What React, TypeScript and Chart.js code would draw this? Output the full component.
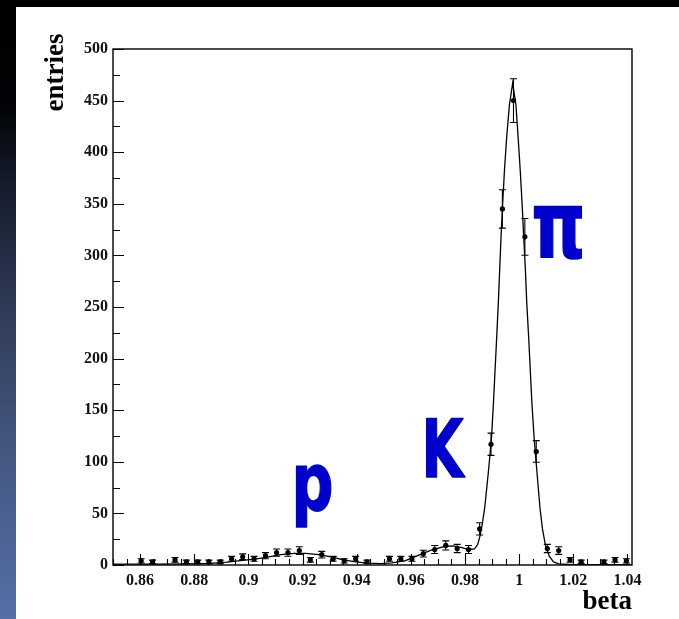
import React, { useEffect, useRef } from 'react';
import { Chart, registerables } from 'chart.js';

Chart.register(...registerables);

// ---- data ----
const binCenters = [
  0.8604, 0.8646, 0.8688, 0.8729, 0.8771, 0.8813, 0.8854, 0.8896, 0.8938, 0.8979,
  0.9021, 0.9063, 0.9104, 0.9146, 0.9188, 0.9229, 0.9271, 0.9313, 0.9354, 0.9396,
  0.9438, 0.9479, 0.9521, 0.9563, 0.9604, 0.9646, 0.9688, 0.9729, 0.9771, 0.9813,
  0.9854, 0.9896, 0.9938, 0.9979, 1.0021, 1.0063, 1.0104, 1.0146, 1.0188, 1.0229,
  1.0271, 1.0313, 1.0354, 1.0396,
];
const entries: (number | null)[] = [
  4, 3, null, 5, 3, 3, 3, 3, 6, 8,
  6, 9, 12, 12, 14, 5, 10, 6, 4, 6,
  3, null, 6, 6, 6, 11, 15, 19, 16, 15,
  35, 117, 345, 450, 318, 110, 16, 14, 5, 3,
  null, 3, 5, 4,
];
const entryErrors = [
  2.0, 1.7, 0, 2.2, 1.7, 1.7, 1.7, 1.7, 2.4, 2.8,
  2.4, 3.0, 3.5, 3.5, 3.7, 2.2, 3.2, 2.4, 2.0, 2.4,
  1.7, 0, 2.4, 2.4, 2.4, 3.3, 3.9, 4.4, 4.0, 3.9,
  5.9, 10.8, 18.6, 21.2, 17.8, 10.5, 4.0, 3.7, 2.2, 1.7,
  0, 1.7, 2.2, 2.0,
];

const curveBeta = [
  0.85, 0.865, 0.878, 0.886, 0.892, 0.897, 0.903, 0.908, 0.912, 0.917,
  0.921, 0.926, 0.931, 0.935, 0.939, 0.944, 0.949, 0.953, 0.958, 0.9625,
  0.9675, 0.9725, 0.9755, 0.9785, 0.9815, 0.9835, 0.9847, 0.9856, 0.9864, 0.9873,
  0.9887, 0.9898, 0.9905, 0.9911, 0.9917, 0.9923, 0.9928, 0.9933, 0.9939, 0.9946,
  0.9954, 0.9964, 0.9976, 0.9988, 0.9996, 1.0004, 1.0011, 1.0017, 1.0023, 1.0028,
  1.0035, 1.0041, 1.0047, 1.0055, 1.0065, 1.0077, 1.0086, 1.0097, 1.0112, 1.0127,
  1.0146, 1.02, 1.0417,
];
const curveValue = [
  0.8, 0.9, 1.1, 1.6, 2.8, 4.2, 6, 8.2, 10, 11.3,
  11.2, 10, 7.6, 5, 3.2, 1.8, 1.3, 2, 4.3, 9,
  14.5, 18, 18.5, 17, 15, 15.5, 20, 29, 40, 56,
  92, 124, 157, 189, 221, 254, 286, 318, 350, 384,
  415, 446, 467, 446, 415, 382, 349, 317, 286, 254,
  221, 189, 157, 124, 92, 55, 35, 19, 8, 3,
  1, 0.4, 0.3,
];

const xMajorTicks = [0.86, 0.88, 0.9, 0.92, 0.94, 0.96, 0.98, 1.0, 1.02, 1.04];
const yMajorTicks = [0, 50, 100, 150, 200, 250, 300, 350, 400, 450, 500];
const xMin = 0.85;
const xMax = 1.041667;
const xMinorStep = 0.005;
const yMinorStep = 25;

const peakLabels = ['p', 'K', 'π'];
const peakLabelBeta = [0.9237, 0.9717, 1.0145];
const peakLabelValue = [53, 85, 297];

const xTitle = 'beta';
const yTitle = 'entries';

const serif = '"Liberation Serif", "Times New Roman", serif';

const fmt = (v: number) => String(parseFloat(v.toFixed(3)));

const framePlugin = {
  id: 'rootFrame',
  afterDatasetsDraw(chart: any) {
    const { ctx, chartArea, scales } = chart;
    const xs = scales.x;
    const ys = scales.y;
    ctx.save();
    // error bars
    ctx.strokeStyle = '#000';
    ctx.lineWidth = 1.1;
    entries.forEach((v, i) => {
      if (v === null) return;
      const e = entryErrors[i];
      if (!e) return;
      const px = xs.getPixelForValue(binCenters[i]);
      const pt = ys.getPixelForValue(v + e);
      const pb = ys.getPixelForValue(Math.max(0, v - e));
      ctx.beginPath();
      ctx.moveTo(px, pt);
      ctx.lineTo(px, pb);
      ctx.moveTo(px - 3.5, pt);
      ctx.lineTo(px + 3.5, pt);
      ctx.moveTo(px - 3.5, pb);
      ctx.lineTo(px + 3.5, pb);
      ctx.stroke();
    });

    // frame
    ctx.lineWidth = 1.4;
    ctx.strokeRect(chartArea.left, chartArea.top, chartArea.right - chartArea.left, chartArea.bottom - chartArea.top);

    // x ticks (inside, upward)
    ctx.lineWidth = 1.1;
    ctx.beginPath();
    for (let v = xMin; v <= xMax + 1e-9; v += xMinorStep) {
      const isMajor = xMajorTicks.some((m) => Math.abs(m - v) < 1e-6);
      const px = Math.round(xs.getPixelForValue(v)) + 0.5;
      ctx.moveTo(px, chartArea.bottom);
      ctx.lineTo(px, chartArea.bottom - (isMajor ? 11 : 6));
    }
    // y ticks (inside, rightward)
    for (let v = 0; v <= 500 + 1e-9; v += yMinorStep) {
      const isMajor = yMajorTicks.includes(v);
      const py = Math.round(ys.getPixelForValue(v)) + 0.5;
      ctx.moveTo(chartArea.left, py);
      ctx.lineTo(chartArea.left + (isMajor ? 11 : 7), py);
    }
    ctx.stroke();

    // peak labels
    ctx.fillStyle = '#0000cc';
    ctx.strokeStyle = '#0000cc';
    ctx.lineWidth = 1.5;
    ctx.lineJoin = 'round';
    ctx.textAlign = 'center';
    ctx.textBaseline = 'alphabetic';
    peakLabels.forEach((t, i) => {
      const px = xs.getPixelForValue(peakLabelBeta[i]);
      const py = ys.getPixelForValue(peakLabelValue[i]);
      const size = t === 'π' ? 92 : 80;
      const mw = t === 'π' ? 54 : 42;
      ctx.font = `bold ${size}px "DejaVu Sans", sans-serif`;
      ctx.fillText(t, px, py, mw);
      ctx.strokeText(t, px, py, mw);
    });

    // y title
    ctx.fillStyle = '#000';
    ctx.font = `bold 27px ${serif}`;
    ctx.translate(47, 65.5);
    ctx.rotate(-Math.PI / 2);
    ctx.textAlign = 'center';
    ctx.fillText(yTitle, 0, 0);
    ctx.restore();
  },
};

export default function App() {
  const ref = useRef<HTMLCanvasElement>(null);

  useEffect(() => {
    const canvas = ref.current;
    if (!canvas) return;
    const chart = new Chart(canvas, {
      type: 'scatter',
      data: {
        datasets: [
          {
            label: 'fit',
            data: curveBeta.map((x, i) => ({ x, y: curveValue[i] })),
            showLine: true,
            borderColor: '#000',
            borderWidth: 1.3,
            pointRadius: 0,
            tension: 0,
            fill: false,
            order: 2,
          } as any,
          {
            label: 'data',
            data: binCenters
              .map((x, i) => ({ x, y: entries[i] }))
              .filter((p) => p.y !== null),
            pointRadius: 2.6,
            pointStyle: 'circle',
            backgroundColor: '#000',
            borderColor: '#000',
            borderWidth: 0,
            order: 1,
          } as any,
        ],
      },
      options: {
        animation: false,
        responsive: false,
        maintainAspectRatio: false,
        layout: { padding: { top: 42, right: 47, left: 0, bottom: 0 } },
        plugins: {
          legend: { display: false },
          tooltip: { enabled: false },
        },
        scales: {
          x: {
            type: 'linear',
            min: xMin,
            max: xMax,
            grid: { display: false, drawTicks: false },
            border: { display: false },
            afterBuildTicks: (s: any) => {
              s.ticks = xMajorTicks.map((value) => ({ value }));
            },
            afterFit: (s: any) => {
              s.height = 54;
            },
            ticks: {
              autoSkip: false,
              maxRotation: 0,
              minRotation: 0,
              padding: 6,
              color: '#111',
              font: { family: serif, size: 16, weight: 'bold' },
              callback: (v: any) => fmt(Number(v)),
            },
            title: {
              display: true,
              text: xTitle,
              align: 'end',
              color: '#000',
              padding: { top: 0, bottom: 1 },
              font: { family: serif, size: 27, weight: 'bold' },
            },
          },
          y: {
            type: 'linear',
            min: 0,
            max: 500,
            grid: { display: false, drawTicks: false },
            border: { display: false },
            afterBuildTicks: (s: any) => {
              s.ticks = yMajorTicks.map((value) => ({ value }));
            },
            afterFit: (s: any) => {
              s.width = 97;
            },
            ticks: {
              padding: 5,
              color: '#111',
              font: { family: serif, size: 16, weight: 'bold' },
              callback: (v: any) => fmt(Number(v)),
            },
          },
        },
      } as any,
      plugins: [framePlugin],
    });
    return () => chart.destroy();
  }, []);

  return (
    <div
      style={{
        position: 'fixed',
        left: 0,
        top: 0,
        width: 679,
        height: 619,
        background: '#000',
        overflow: 'hidden',
      }}
    >
      <div
        style={{
          position: 'absolute',
          left: 0,
          top: 0,
          width: 16,
          height: 619,
          background:
            'linear-gradient(to bottom, #000 0%, #020306 17%, #161c2c 30%, #2f3b58 50%, #44567f 72%, #5470a6 100%)',
        }}
      />
      <div style={{ position: 'absolute', left: 16, top: 7, width: 663, height: 612, background: '#fff' }}>
        <canvas ref={ref} width={663} height={612} style={{ display: 'block', width: 663, height: 612 }} />
      </div>
    </div>
  );
}
